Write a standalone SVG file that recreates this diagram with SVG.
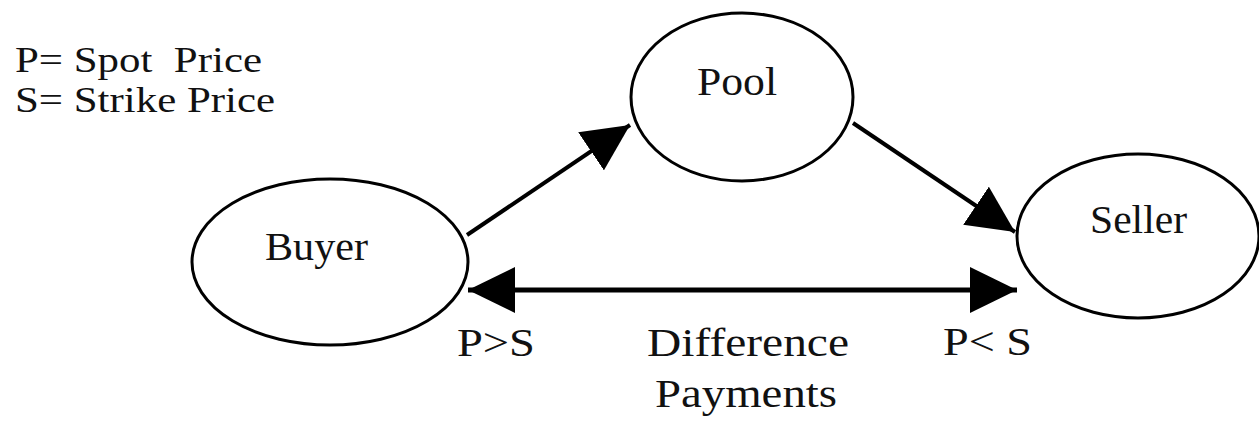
<svg xmlns="http://www.w3.org/2000/svg" width="1259" height="422" viewBox="0 0 1259 422">
<style>
.node{fill:#fff;stroke:#000;stroke-width:3}
.t{font-family:'Liberation Serif','DejaVu Serif','Times New Roman',serif;font-size:40px;fill:#111}
.lg{font-size:36px}
.edge{stroke:#000;fill:none}
</style>
<defs>
<marker id="ah" markerUnits="userSpaceOnUse" markerWidth="47" markerHeight="46" refX="47" refY="23" orient="auto-start-reverse" viewBox="0 0 47 46">
<path d="M0,0 L47,23 L0,46 Z" fill="#000"/>
</marker>
</defs>
<rect width="1259" height="422" fill="#fff"/>
<g id="legend">
<text class="t lg" x="15" y="72" textLength="247" lengthAdjust="spacingAndGlyphs" xml:space="preserve">P= Spot  Price</text>
<text class="t lg" x="15" y="112" textLength="260" lengthAdjust="spacingAndGlyphs">S= Strike Price</text>
</g>
<g id="buyer">
<ellipse class="node" cx="330" cy="262" rx="138" ry="83"/>
<text class="t" x="265" y="260" textLength="103" lengthAdjust="spacingAndGlyphs">Buyer</text>
</g>
<g id="pool">
<ellipse class="node" cx="742" cy="97" rx="111" ry="84"/>
<text class="t" x="697" y="95" textLength="80" lengthAdjust="spacingAndGlyphs">Pool</text>
</g>
<g id="seller">
<ellipse class="node" cx="1138" cy="236" rx="121" ry="82"/>
<text class="t" x="1090" y="233" textLength="97" lengthAdjust="spacingAndGlyphs">Seller</text>
</g>
<g id="connectors">
<line class="edge" x1="467" y1="235" x2="630" y2="125" stroke-width="4" marker-end="url(#ah)"/>
<line class="edge" x1="853" y1="123" x2="1015" y2="232" stroke-width="4" marker-end="url(#ah)"/>
<line class="edge" x1="468" y1="290" x2="1017" y2="290" stroke-width="5" marker-start="url(#ah)" marker-end="url(#ah)"/>
</g>
<g id="labels">
<text class="t" x="457" y="356" textLength="78" lengthAdjust="spacingAndGlyphs">P&gt;S</text>
<text class="t" x="647" y="356" textLength="202" lengthAdjust="spacingAndGlyphs">Difference</text>
<text class="t" x="655" y="407" textLength="182" lengthAdjust="spacingAndGlyphs">Payments</text>
<text class="t" x="943" y="355" textLength="89" lengthAdjust="spacingAndGlyphs" xml:space="preserve">P&lt; S</text>
</g>
</svg>
